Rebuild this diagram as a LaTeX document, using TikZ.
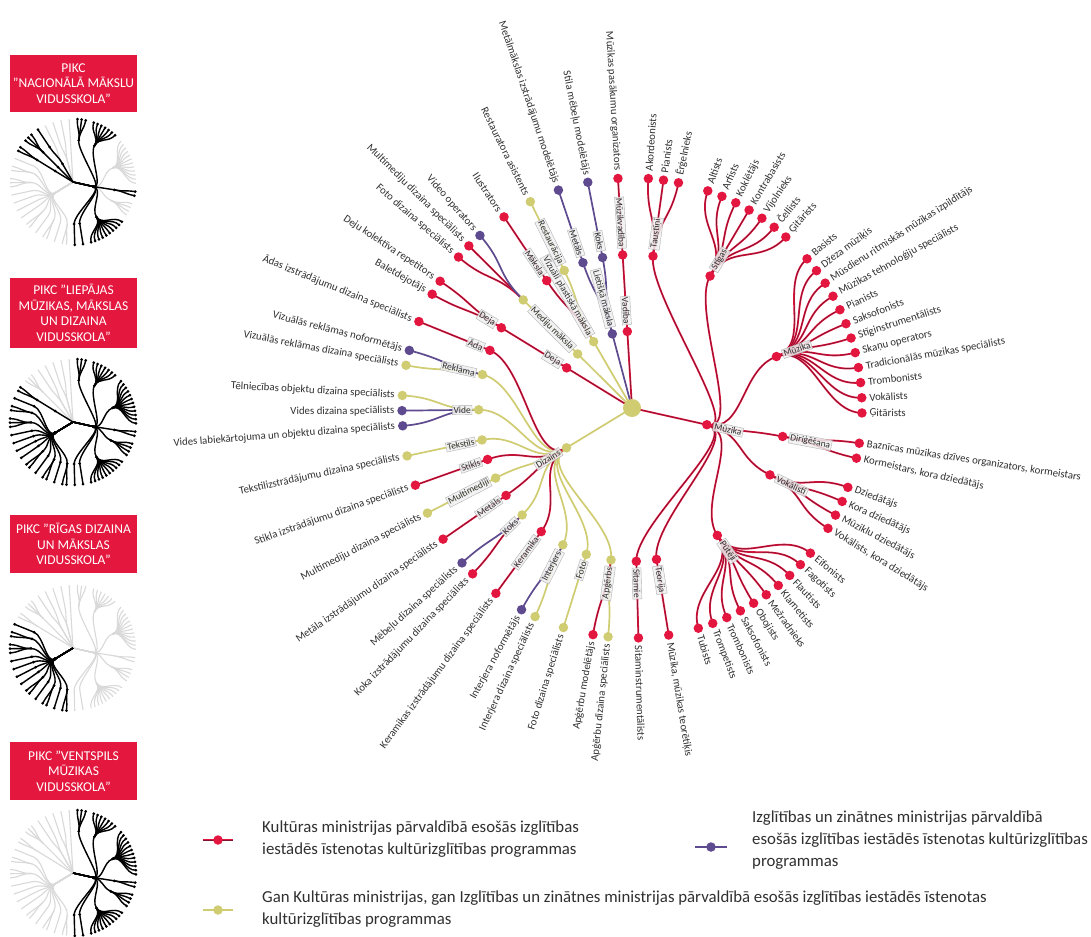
\documentclass[tikz,border=0pt]{standalone}
\usepackage{fontspec}
\setmainfont{Carlito}
\pgfdeclarelayer{bg}
\pgfsetlayers{bg,main}
\definecolor{cR}{HTML}{E3163F}
\definecolor{cRd}{HTML}{7E1430}
\definecolor{cP}{HTML}{5E4A8E}
\definecolor{cY}{HTML}{D0CC72}
\definecolor{boxred}{HTML}{E4173E}
\definecolor{txt}{HTML}{303030}
\tikzset{
  lnR/.style={draw=cR, double=cRd, double distance=0.6pt, line width=0.6pt},
  lnP/.style={draw=cP, line width=1.7pt},
  lnY/.style={draw=cY, line width=1.7pt},
  dotR/.style={circle, fill=cR, inner sep=0pt, minimum size=9.5pt},
  dotP/.style={circle, fill=cP, inner sep=0pt, minimum size=9.5pt},
  dotY/.style={circle, fill=cY, inner sep=0pt, minimum size=9.5pt},
  rootdot/.style={circle, fill=cY, inner sep=0pt, minimum size=18pt},
  leaftext/.style={font=\fontsize{10.8}{12}\selectfont, text=txt, inner sep=1pt},
  boxlab/.style={font=\fontsize{9.5}{10}\selectfont, text=txt, fill=gray!12, fill opacity=0.85, text opacity=1, draw=gray!60, line width=0.4pt, inner sep=1.2pt},
  pikc/.style={fill=boxred, text=white, font=\fontsize{13.5}{15.5}\selectfont, align=center, minimum width=127pt, inner sep=0pt},
  legtext/.style={font=\fontsize{16.8}{22}\selectfont, text=txt, align=left, anchor=west, inner sep=0pt},
  thg/.style={draw=gray!30, line width=1.1pt},
  thb/.style={draw=black, line width=1.4pt},
}
\newcommand\SetNode[4]{%
  \pgfmathsetmacro\tAng{93.5-(#2)*3.78947}%
  \expandafter\xdef\csname tA-#1\endcsname{\tAng}%
  \expandafter\xdef\csname tR-#1\endcsname{#3}%
  \node[dot#4] (#1) at (\tAng:#3) {};%
}
\newcommand\Link[3]{%
  \edef\tPa{\csname tA-#1\endcsname}%
  \edef\tPr{\csname tR-#1\endcsname}%
  \edef\tCa{\csname tA-#2\endcsname}%
  \edef\tCr{\csname tR-#2\endcsname}%
  \pgfmathsetmacro\tMr{(\tPr+\tCr)/2}%
  \begin{pgfonlayer}{bg}%
  \draw[ln#3] (#1.center) .. controls (\tPa:\tMr) and (\tCa:\tMr) .. (#2.center);%
  \end{pgfonlayer}}
\newcommand\Lab[3]{%
  \edef\tLa{\csname tA-#1\endcsname}%
  \edef\tLr{\csname tR-#1\endcsname}%
  \pgfmathsetmacro\tLp{\tLr+6.5}%
  \pgfmathtruncatemacro\tLeft{(\tLa>90)||(\tLa<-90)}%
  \ifnum\tLeft=1
    \pgfmathsetmacro\tRot{\tLa+180}%
    \node[#3, anchor=east, rotate=\tRot] (#1-t) at (\tLa:\tLp) {#2};%
  \else
    \node[#3, anchor=west, rotate=\tLa] (#1-t) at (\tLa:\tLp) {#2};%
  \fi}
\newcommand\Leaf[4]{\SetNode{L#2}{#2}{230}{#3}\Link{#1}{L#2}{#3}\Lab{L#2}{#4}{leaftext}}
\newcommand\Mid[5]{\SetNode{#1}{#2}{153.333}{#3}\Link{#4}{#1}{#3}%
  \if\relax\detokenize{#5}\relax\else\Lab{#1}{#5}{boxlab}\fi}
\newcommand\RMid[4]{\SetNode{#1}{#2}{76.667}{#3}%
  \begin{pgfonlayer}{bg}\draw[ln#3] (root.center) -- (#1.center);\end{pgfonlayer}%
  \Lab{#1}{#4}{boxlab}}
\def\TreeData{Va/0/0/{0}, Ta/28/3/{2,3,4}, St/28/9/{6,...,12}, Mz/28/19.5/{14,...,25},
 Di/28/27.5/{27,28}, Vo/28/31.5/{30,...,33}, Pu/28/39.5/{35,...,44}, Te/28/46/{46}, Si/28/48/{48},
 Ap/63.9167/50.5/{50,51}, Fo/63.9167/53/{53}, In/63.9167/55.5/{55,56}, Ke/63.9167/58/{58},
 Ko/63.9167/60.5/{60,61}, Me/63.9167/63/{63}, Mu/63.9167/65/{65}, Sk/63.9167/67/{67},
 Tk/63.9167/69/{69}, Vd/63.9167/72/{71,72,73}, Re/63.9167/75.5/{75,76}, Ad/63.9167/78/{78},
 Dj/80.5/80.5/{80,81}, Md/84/84/{83,84,85}, Ma/88/87/{87}, Rs/88/89/{89}, LM/92/91/{91}, LK/92/93/{93}}
\makeatletter
\newcommand\Thumb[3]{%
  \def\HLlist{,#3,}%
  \begin{scope}[shift={(#1,#2)}]
    \foreach \thG/\thA/\thB/\thL in \TreeData {%
      \pgfmathsetmacro\aA{93.5-\thA*3.78947}%
      \pgfmathsetmacro\aB{93.5-\thB*3.78947}%
      \draw[thg] (0,0) -- (\aA:21) .. controls (\aA:31.5) and (\aB:31.5) .. (\aB:42);
      \foreach \thK in \thL {%
        \pgfmathsetmacro\aC{93.5-\thK*3.78947}%
        \draw[thg] (\aB:42) .. controls (\aB:52.5) and (\aC:52.5) .. (\aC:63);}
    }
    \foreach \thG/\thA/\thB/\thL in \TreeData {%
      \edef\tmp{\noexpand\in@{,\thG,}{\HLlist}}\tmp
      \ifin@
        \pgfmathsetmacro\aA{93.5-\thA*3.78947}%
        \pgfmathsetmacro\aB{93.5-\thB*3.78947}%
        \draw[thb] (0,0) -- (\aA:21) .. controls (\aA:31.5) and (\aB:31.5) .. (\aB:42);
        \fill (\aA:21) circle (1.5) (\aB:42) circle (1.5);
        \foreach \thK in \thL {%
          \pgfmathsetmacro\aC{93.5-\thK*3.78947}%
          \draw[thb] (\aB:42) .. controls (\aB:52.5) and (\aC:52.5) .. (\aC:63);
          \fill (\aC:63) circle (1.5);}
      \fi}
  \end{scope}}
\makeatother
\begin{document}
\begin{tikzpicture}[x=1pt,y=1pt]
\useasboundingbox (0,0) rectangle (1091,-936);
\begin{pgfonlayer}{bg}\fill[white] (0,0) rectangle (1091,-936);\end{pgfonlayer}

% ---------- left panels ----------
\node[pikc, minimum height=57pt] (b1) at (73.5,-83.5) {PIKC\\"NACIONĀLĀ MĀKSLU\\VIDUSSKOLA"};
\node[pikc, minimum height=70pt] (b2) at (73.5,-313) {PIKC "LIEPĀJAS\\MŪZIKAS, MĀKSLAS\\UN DIZAINA\\VIDUSSKOLA"};
\node[pikc, minimum height=58pt] (b3) at (73.5,-544) {PIKC "RĪGAS DIZAINA\\UN MĀKSLAS\\VIDUSSKOLA"};
\node[pikc, minimum height=58pt] (b4) at (73.5,-771) {PIKC "VENTSPILS\\MŪZIKAS\\VIDUSSKOLA"};
\Thumb{73}{-182}{Ta,St,Di,Pu,Te,Si,Dj,Md,Ma}
\Thumb{73}{-422}{Ta,St,Mz,Di,Vo,Pu,Te,Si,Ap,Fo,In,Ke,Ko,Me,Mu,Sk,Tk,Vd,Re,Ad,Dj}
\Thumb{73}{-648}{Ap,Fo,In,Ke,Ko,Me,Mu,Sk,Tk,Vd,Re,Ad}
\Thumb{73}{-873}{Ta,St,Mz,Di,Vo,Pu,Te,Si}

% ---------- main radial tree ----------
\begin{scope}[shift={(632,-408)}]
\node[rootdot] (root) at (0,0) {};
\RMid{V1}{0}{R}{Vadība}
\RMid{M1}{28}{R}{Mūzika}
\RMid{D1}{63.9167}{Y}{Dizains}
\RMid{J1}{80.5}{R}{Deja}
\RMid{E1}{84}{Y}{Mediju māksla}
\RMid{P1}{88}{Y}{Vizuāli plastiskā māksla}
\RMid{T1}{92}{P}{Lietišķā māksla}

\Mid{V2}{0}{R}{V1}{Mūzikvadība}
\Leaf{V2}{0}{R}{Mūzikas pasākumu organizators}

\Mid{Ta}{3}{R}{M1}{Taustiņi}
\Leaf{Ta}{2}{R}{Akordeonists}
\Leaf{Ta}{3}{R}{Pianists}
\Leaf{Ta}{4}{R}{Ērģelnieks}

\Mid{St}{9}{R}{M1}{Stīgas}
\Leaf{St}{6}{R}{Altists}
\Leaf{St}{7}{R}{Arfists}
\Leaf{St}{8}{R}{Koklētājs}
\Leaf{St}{9}{R}{Kontrabasists}
\Leaf{St}{10}{R}{Vijolnieks}
\Leaf{St}{11}{R}{Čellists}
\Leaf{St}{12}{R}{Ģitārists}

\Mid{Mz}{19.5}{R}{M1}{Mūzika}
\Leaf{Mz}{14}{R}{Basists}
\Leaf{Mz}{15}{R}{Džeza mūziķis}
\Leaf{Mz}{16}{R}{Mūsdienu ritmiskās mūzikas izpildītājs}
\Leaf{Mz}{17}{R}{Mūzikas tehnoloģiju speciālists}
\Leaf{Mz}{18}{R}{Pianists}
\Leaf{Mz}{19}{R}{Saksofonists}
\Leaf{Mz}{20}{R}{Stīginstrumentālists}
\Leaf{Mz}{21}{R}{Skaņu operators}
\Leaf{Mz}{22}{R}{Tradicionālās mūzikas speciālists}
\Leaf{Mz}{23}{R}{Trombonists}
\Leaf{Mz}{24}{R}{Vokālists}
\Leaf{Mz}{25}{R}{Ģitārists}

\Mid{Di}{27.5}{R}{M1}{Diriģēšana}
\Leaf{Di}{27}{R}{Baznīcas mūzikas dzīves organizators, kormeistars}
\Leaf{Di}{28}{R}{Kormeistars, kora dziedātājs}

\Mid{Vo}{31.5}{R}{M1}{Vokālisti}
\Leaf{Vo}{30}{R}{Dziedātājs}
\Leaf{Vo}{31}{R}{Kora dziedātājs}
\Leaf{Vo}{32}{R}{Mūziklu dziedātājs}
\Leaf{Vo}{33}{R}{Vokālists, kora dziedātājs}

\Mid{Pu}{39.5}{R}{M1}{Pūtēji}
\Leaf{Pu}{35}{R}{Eifonists}
\Leaf{Pu}{36}{R}{Fagotists}
\Leaf{Pu}{37}{R}{Flautists}
\Leaf{Pu}{38}{R}{Klarnetists}
\Leaf{Pu}{39}{R}{Mežradnieks}
\Leaf{Pu}{40}{R}{Obojists}
\Leaf{Pu}{41}{R}{Saksofonists}
\Leaf{Pu}{42}{R}{Trombonists}
\Leaf{Pu}{43}{R}{Trompetists}
\Leaf{Pu}{44}{R}{Tubists}

\Mid{Te}{46}{R}{M1}{Teorija}
\Leaf{Te}{46}{R}{Mūzika, mūzikas teorētiķis}
\Mid{Si}{48}{R}{M1}{Sitamie}
\Leaf{Si}{48}{R}{Sitaminstrumentālists}

\Mid{Ap}{50.5}{Y}{D1}{Apģērbs}
\Leaf{Ap}{50}{Y}{Apģērbu dizaina speciālists}
\Leaf{Ap}{51}{R}{Apģērbu modelētājs}
\Mid{Fo}{53}{Y}{D1}{Foto}
\Leaf{Fo}{53}{Y}{Foto dizaina speciālists}
\Mid{In}{55.5}{Y}{D1}{Interjers}
\Leaf{In}{55}{Y}{Interjera dizaina speciālists}
\Leaf{In}{56}{P}{Interjera noformētājs}
\Mid{Ke}{58}{R}{D1}{Keramika}
\Leaf{Ke}{58}{R}{Keramikas izstrādājumu dizaina speciālists}
\Mid{Ko}{60.5}{Y}{D1}{Koks}
\Leaf{Ko}{60}{R}{Koka izstrādājumu dizaina speciālists}
\Leaf{Ko}{61}{P}{Mēbeļu dizaina speciālists}
\Mid{Me}{63}{R}{D1}{Metāls}
\Leaf{Me}{63}{R}{Metāla izstrādājumu dizaina speciālists}
\Mid{Mu}{65}{Y}{D1}{Multimediji}
\Leaf{Mu}{65}{Y}{Multimediju dizaina speciālists}
\Mid{Sk}{67}{R}{D1}{Stikls}
\Leaf{Sk}{67}{R}{Stikla izstrādājumu dizaina speciālists}
\Mid{Tk}{69}{Y}{D1}{Tekstils}
\Leaf{Tk}{69}{Y}{Tekstilizstrādājumu dizaina speciālists}
\Mid{Vd}{72}{Y}{D1}{Vide}
\Leaf{Vd}{71}{P}{Vides labiekārtojuma un objektu dizaina speciālists}
\Leaf{Vd}{72}{P}{Vides dizaina speciālists}
\Leaf{Vd}{73}{Y}{Tēlniecības objektu dizaina speciālists}
\Mid{Re}{75.5}{Y}{D1}{Reklāma}
\Leaf{Re}{75}{Y}{Vizuālās reklāmas dizaina speciālists}
\Leaf{Re}{76}{P}{Vizuālās reklāmas noformētājs}
\Mid{Ad}{78}{R}{D1}{Āda}
\Leaf{Ad}{78}{R}{Ādas izstrādājumu dizaina speciālists}

\Mid{J2}{80.5}{R}{J1}{Deja}
\Leaf{J2}{80}{R}{Baletdejotājs}
\Leaf{J2}{81}{R}{Deju kolektīva repetitors}

\Mid{E2}{84}{Y}{E1}{}
\Leaf{E2}{83}{R}{Foto dizaina speciālists}
\Leaf{E2}{84}{R}{Multimediju dizaina speciālists}
\Leaf{E2}{85}{P}{Video operators}

\Mid{Ma}{87}{R}{P1}{Māksla}
\Leaf{Ma}{87}{R}{Ilustrators}
\Mid{Rs}{89}{Y}{P1}{Restaurācija}
\Leaf{Rs}{89}{Y}{Restauratora asistents}

\Mid{LM}{91}{P}{T1}{Metāls}
\Leaf{LM}{91}{P}{Metālmākslas izstrādājumu modelētājs}
\Mid{LK}{93}{P}{T1}{Koks}
\Leaf{LK}{93}{P}{Stila mēbeļu modelētājs}
\end{scope}

% ---------- legend ----------
\coordinate (lgRa) at (203,-840); \coordinate (lgRb) at (233,-840);
\draw[lnR] (lgRa) -- (lgRb);
\node[dotR] (lgR) at (218,-840) {};
\node[legtext] (lgRt) at (262,-839) {Kultūras ministrijas pārvaldībā esošās izglītības\\iestādēs īstenotas kultūrizglītības programmas};
\coordinate (lgPa) at (695,-847); \coordinate (lgPb) at (727,-847);
\draw[lnP] (lgPa) -- (lgPb);
\node[dotP] (lgP) at (711,-847) {};
\node[legtext] (lgPt) at (752,-840) {Izglītības un zinātnes ministrijas pārvaldībā\\esošās izglītības iestādēs īstenotas kultūrizglītības\\programmas};
\coordinate (lgYa) at (203,-910); \coordinate (lgYb) at (233,-910);
\draw[lnY] (lgYa) -- (lgYb);
\node[dotY] (lgY) at (218,-910) {};
\node[legtext] (lgYt) at (262,-909) {Gan Kultūras ministrijas, gan Izglītības un zinātnes ministrijas pārvaldībā esošās izglītības iestādēs īstenotas\\kultūrizglītības programmas};
\end{tikzpicture}
\end{document}
